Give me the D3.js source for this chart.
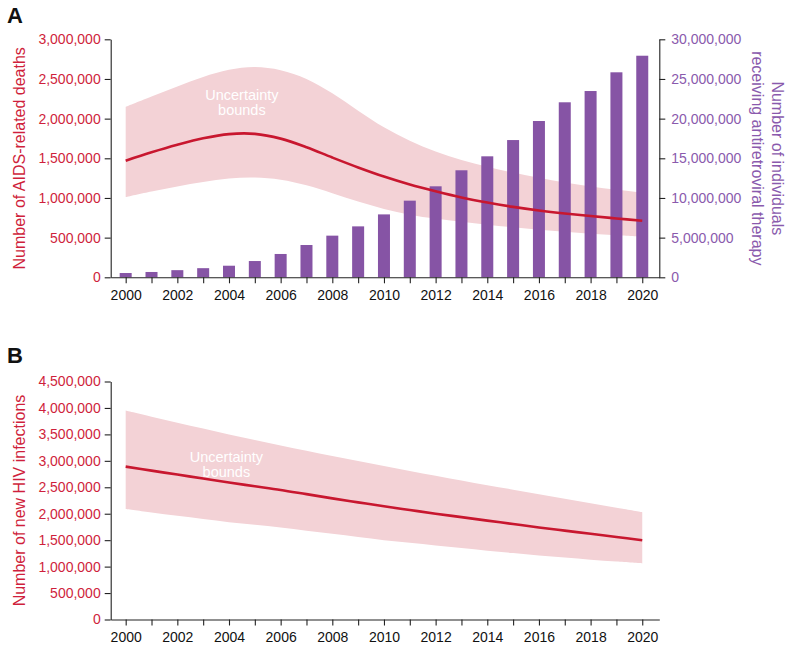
<!DOCTYPE html>
<html>
<head>
<meta charset="utf-8">
<script src="https://cdn.jsdelivr.net/npm/d3@7"></script>
<style>
  html, body { margin: 0; padding: 0; background: #fff; }
  svg { display: block; font-family: "Liberation Sans", Arial, Helvetica, sans-serif; }
</style>
</head>
<body>
<svg id="chart" width="793" height="648"></svg>
<script>
// ---------- DATA ----------
const years = d3.range(2000, 2021);
// Panel A: AIDS-related deaths (left axis)
const deathsCentral = [1470000, 1575000, 1670000, 1752000, 1805000, 1808000, 1748000, 1640000, 1510000, 1385000, 1270000, 1170000, 1084000, 1006000, 942000, 888000, 843000, 805000, 772000, 742000, 712000];
const deathsUpper   = [2150000, 2280000, 2405000, 2525000, 2615000, 2650000, 2610000, 2500000, 2320000, 2100000, 1890000, 1720000, 1585000, 1480000, 1395000, 1320000, 1255000, 1195000, 1145000, 1105000, 1070000];
const deathsLower   = [1010000, 1080000, 1145000, 1200000, 1245000, 1258000, 1230000, 1160000, 1060000, 955000, 862000, 790000, 740000, 700000, 662000, 630000, 600000, 573000, 550000, 530000, 510000];
// Panel A: individuals receiving ART (right axis)
const artValues = [540000, 670000, 900000, 1150000, 1460000, 2050000, 2940000, 4070000, 5250000, 6420000, 7930000, 9660000, 11470000, 13490000, 15250000, 17300000, 19700000, 22060000, 23480000, 25840000, 27930000];
// Panel B: new HIV infections
const infCentral = [2890000, 2815000, 2740000, 2665000, 2590000, 2520000, 2450000, 2370000, 2290000, 2215000, 2140000, 2070000, 2000000, 1935000, 1870000, 1805000, 1740000, 1680000, 1620000, 1560000, 1500000];
const infUpper   = [3950000, 3835000, 3720000, 3610000, 3500000, 3395000, 3290000, 3190000, 3090000, 2995000, 2900000, 2810000, 2720000, 2630000, 2540000, 2455000, 2370000, 2285000, 2200000, 2115000, 2030000];
const infLower   = [2090000, 2025000, 1960000, 1900000, 1840000, 1790000, 1740000, 1680000, 1620000, 1560000, 1500000, 1450000, 1400000, 1350000, 1300000, 1255000, 1210000, 1170000, 1130000, 1095000, 1060000];
// Tick definitions
const leftTicksA  = d3.range(0, 3000001, 500000);
const rightTicksA = d3.range(0, 30000001, 5000000);
const leftTicksB  = d3.range(0, 4500001, 500000);
const yearTicks   = years;

// ---------- STYLE ----------
const RED_TEXT = "#cf1f3c";
const RED_LINE = "#c8172f";
const BAND = "#f3d2d6";
const PURPLE = "#8654a5";
const PURPLE_TEXT = "#8a5aad";
const AXIS = "#222";
const FONT = 14;

const svg = d3.select("#chart");

const x = d3.scaleLinear().domain([1999.42, 2020.66]).range([110.7, 659.3]);
const curve = d3.curveCatmullRom.alpha(0.5);

function styleAxis(g, textColor) {
  g.select(".domain").attr("stroke", AXIS).attr("stroke-width", 1.1);
  g.selectAll(".tick line").attr("stroke", AXIS).attr("stroke-width", 1.1);
  g.selectAll(".tick text").attr("fill", textColor).style("font-size", FONT + "px")
    .style("font-family", '"Liberation Sans", Arial, Helvetica, sans-serif');
}

function xAxis(yPos) {
  const g = svg.append("g").attr("transform", `translate(0,${yPos})`)
    .call(d3.axisBottom(x).tickValues(yearTicks).tickSize(6).tickSizeOuter(0).tickPadding(7)
      .tickFormat(d => d % 2 === 0 ? String(d) : ""));
  styleAxis(g, "#111");
}

// ---------- PANEL A ----------
const yA = d3.scaleLinear().domain([0, 3000000]).range([277.3, 39.3]);
const yA2 = d3.scaleLinear().domain([0, 30000000]).range([277.3, 39.3]);

const areaA = d3.area().x((d, i) => x(years[i])).y0((d, i) => yA(deathsLower[i])).y1(d => yA(d)).curve(curve);
svg.append("path").datum(deathsUpper).attr("d", areaA).attr("fill", BAND);

svg.append("g").selectAll("text").data(["Uncertainty", "bounds"]).join("text")
  .attr("x", x(2004.5)).attr("y", (d, i) => 100 + i * 15)
  .attr("text-anchor", "middle").attr("fill", "#fff").style("font-size", "14.5px").text(d => d);

const barW = 12;
svg.append("g").selectAll("rect").data(artValues).join("rect")
  .attr("x", (d, i) => x(years[i]) - barW / 2)
  .attr("width", barW)
  .attr("y", d => yA2(d))
  .attr("height", d => yA2(0) - yA2(d))
  .attr("fill", PURPLE);

const lineA = d3.line().x((d, i) => x(years[i])).y(d => yA(d)).curve(curve);
svg.append("path").datum(deathsCentral).attr("d", lineA).attr("fill", "none")
  .attr("stroke", RED_LINE).attr("stroke-width", 2.6);

const gLA = svg.append("g").attr("transform", "translate(110.7,0)")
  .call(d3.axisLeft(yA).tickValues(leftTicksA).tickSize(6).tickSizeOuter(0).tickPadding(4).tickFormat(d3.format(",")));
styleAxis(gLA, RED_TEXT);
const gRA = svg.append("g").attr("transform", "translate(659.3,0)")
  .call(d3.axisRight(yA2).tickValues(rightTicksA).tickSize(6).tickSizeOuter(0).tickPadding(6).tickFormat(d3.format(",")));
styleAxis(gRA, PURPLE_TEXT);
xAxis(277.3);

svg.append("text").attr("transform", `translate(25,${(39.3 + 277.3) / 2}) rotate(-90)`)
  .attr("text-anchor", "middle").attr("fill", RED_TEXT).style("font-size", "16px")
  .text("Number of AIDS-related deaths");
svg.append("g").selectAll("text").data(["Number of individuals", "receiving antiretroviral therapy"]).join("text")
  .attr("transform", (d, i) => `translate(${772 - i * 20},${(39.3 + 277.3) / 2}) rotate(90)`)
  .attr("text-anchor", "middle").attr("fill", PURPLE_TEXT).style("font-size", "16px").text(d => d);

svg.append("text").attr("x", 7).attr("y", 23).style("font-size", "22px").style("font-weight", "bold")
  .attr("fill", "#111").text("A");

// ---------- PANEL B ----------
const yB = d3.scaleLinear().domain([0, 4500000]).range([619.5, 381.5]);
const areaB = d3.area().x((d, i) => x(years[i])).y0((d, i) => yB(infLower[i])).y1(d => yB(d)).curve(curve);
svg.append("path").datum(infUpper).attr("d", areaB).attr("fill", BAND);

svg.append("g").selectAll("text").data(["Uncertainty", "bounds"]).join("text")
  .attr("x", x(2003.9)).attr("y", (d, i) => 462 + i * 15)
  .attr("text-anchor", "middle").attr("fill", "#fff").style("font-size", "14.5px").text(d => d);

const lineB = d3.line().x((d, i) => x(years[i])).y(d => yB(d)).curve(curve);
svg.append("path").datum(infCentral).attr("d", lineB).attr("fill", "none")
  .attr("stroke", RED_LINE).attr("stroke-width", 2.6);

const gLB = svg.append("g").attr("transform", "translate(110.7,0)")
  .call(d3.axisLeft(yB).tickValues(leftTicksB).tickSize(6).tickSizeOuter(0).tickPadding(4).tickFormat(d3.format(",")));
styleAxis(gLB, RED_TEXT);
xAxis(619.5);

svg.append("text").attr("transform", `translate(25,${(381.5 + 619.5) / 2}) rotate(-90)`)
  .attr("text-anchor", "middle").attr("fill", RED_TEXT).style("font-size", "16px")
  .text("Number of new HIV infections");

svg.append("text").attr("x", 7).attr("y", 363).style("font-size", "22px").style("font-weight", "bold")
  .attr("fill", "#111").text("B");
</script>
</body>
</html>
